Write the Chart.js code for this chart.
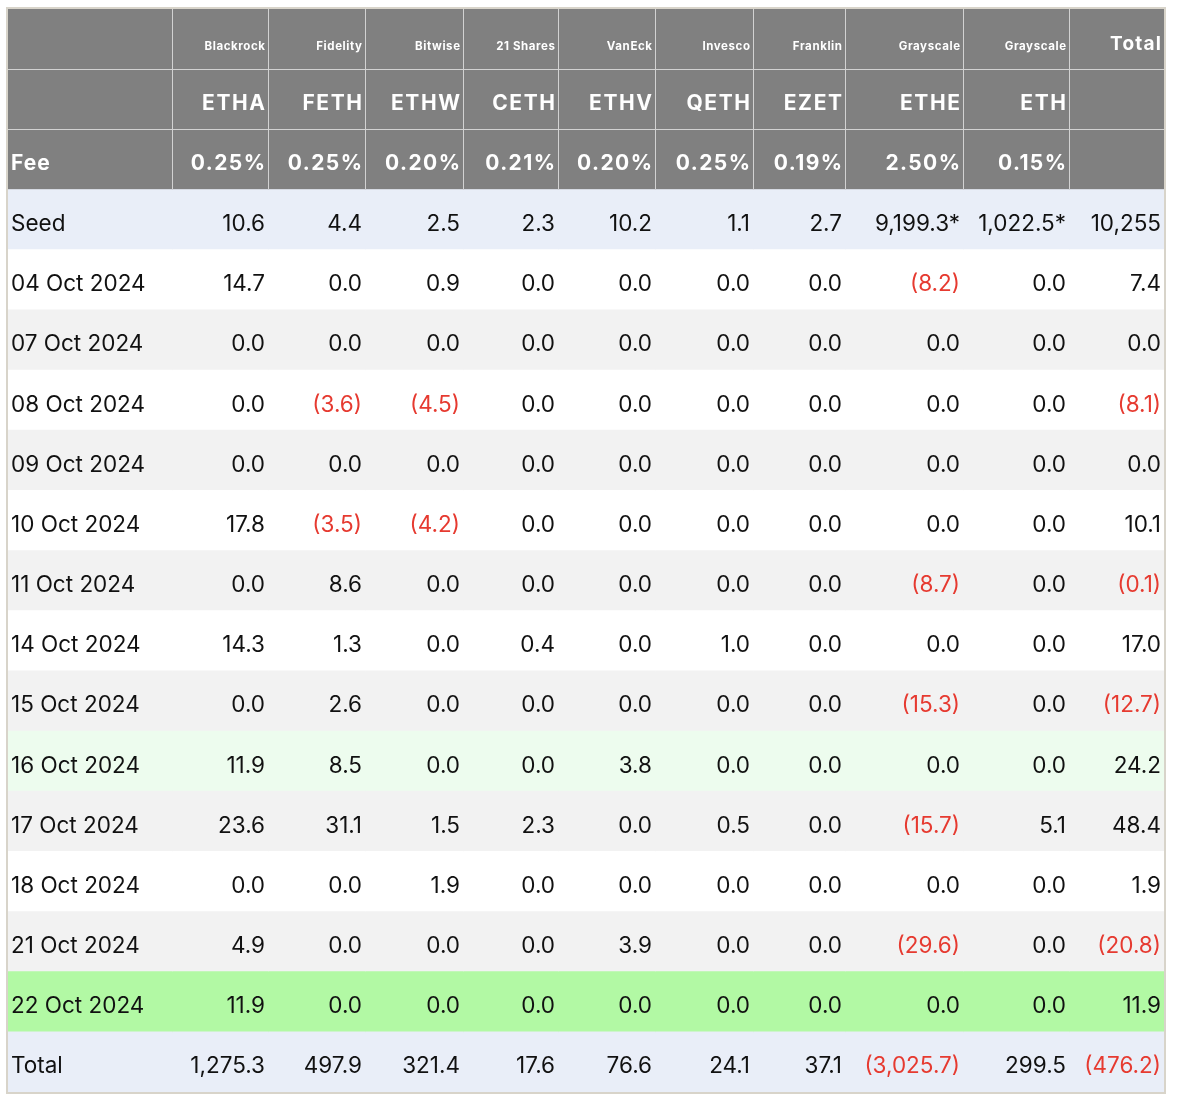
<!DOCTYPE html>
<html>
<head>
<meta charset="utf-8">
<script src="https://cdn.jsdelivr.net/npm/chart.js@4.4.1/dist/chart.umd.min.js"></script>
<style>
  html, body { margin: 0; padding: 0; background: #fff; }
  #wrap { width: 1182px; height: 1106px; }
</style>
</head>
<body>
<div id="wrap"><canvas id="flowTable"></canvas></div>
<script>
// ---- data ----
const providers = ["Blackrock", "Fidelity", "Bitwise", "21 Shares", "VanEck", "Invesco", "Franklin", "Grayscale", "Grayscale"];
const tickers = ["ETHA", "FETH", "ETHW", "CETH", "ETHV", "QETH", "EZET", "ETHE", "ETH"];
const fees = ["0.25%", "0.25%", "0.20%", "0.21%", "0.20%", "0.25%", "0.19%", "2.50%", "0.15%"];

const seed = [10.6, 4.4, 2.5, 2.3, 10.2, 1.1, 2.7, 9199.3, 1022.5];
const seedEstimated = [false, false, false, false, false, false, false, true, true];
const seedTotal = 10255;

const dates = ["04 Oct 2024", "07 Oct 2024", "08 Oct 2024", "09 Oct 2024", "10 Oct 2024", "11 Oct 2024",
  "14 Oct 2024", "15 Oct 2024", "16 Oct 2024", "17 Oct 2024", "18 Oct 2024", "21 Oct 2024", "22 Oct 2024"];

// daily flows per fund, one value per date
const etha = [14.7, 0.0, 0.0, 0.0, 17.8, 0.0, 14.3, 0.0, 11.9, 23.6, 0.0, 4.9, 11.9];
const feth = [0.0, 0.0, -3.6, 0.0, -3.5, 8.6, 1.3, 2.6, 8.5, 31.1, 0.0, 0.0, 0.0];
const ethw = [0.9, 0.0, -4.5, 0.0, -4.2, 0.0, 0.0, 0.0, 0.0, 1.5, 1.9, 0.0, 0.0];
const ceth = [0.0, 0.0, 0.0, 0.0, 0.0, 0.0, 0.4, 0.0, 0.0, 2.3, 0.0, 0.0, 0.0];
const ethv = [0.0, 0.0, 0.0, 0.0, 0.0, 0.0, 0.0, 0.0, 3.8, 0.0, 0.0, 3.9, 0.0];
const qeth = [0.0, 0.0, 0.0, 0.0, 0.0, 0.0, 1.0, 0.0, 0.0, 0.5, 0.0, 0.0, 0.0];
const ezet = [0.0, 0.0, 0.0, 0.0, 0.0, 0.0, 0.0, 0.0, 0.0, 0.0, 0.0, 0.0, 0.0];
const ethe = [-8.2, 0.0, 0.0, 0.0, 0.0, -8.7, 0.0, -15.3, 0.0, -15.7, 0.0, -29.6, 0.0];
const eth = [0.0, 0.0, 0.0, 0.0, 0.0, 0.0, 0.0, 0.0, 0.0, 5.1, 0.0, 0.0, 0.0];
const dailyTotal = [7.4, 0.0, -8.1, 0.0, 10.1, -0.1, 17.0, -12.7, 24.2, 48.4, 1.9, -20.8, 11.9];

const fundTotals = [1275.3, 497.9, 321.4, 17.6, 76.6, 24.1, 37.1, -3025.7, 299.5];
const grandTotal = -476.2;

// ---- layout / style ----
const colWidths = [164, 96, 97, 98, 95, 97, 98, 92, 118, 106, 95];
const HEADER_BG = "#808080";
const GRID = "#d2d2d2";
const RED = "#e63a30";
const INK = "#111111";
const FONT = 'Inter, "Noto Sans", sans-serif';
const highlight = { "16 Oct 2024": "#edfcee", "22 Oct 2024": "#b2f9a4" };

const colEdges = [0];
colWidths.forEach(w => colEdges.push(colEdges[colEdges.length - 1] + w));
const tableWidth = colEdges[colEdges.length - 1];

function fmt(v, digits) {
  const s = Math.abs(v).toLocaleString("en-US", { minimumFractionDigits: digits, maximumFractionDigits: digits });
  return v < 0 ? "(" + s + ")" : s;
}

// build rows of the table
const funds = [etha, feth, ethw, ceth, ethv, qeth, ezet, ethe, eth];
const rows = [];
rows.push({ kind: "provider", label: "", cells: providers.map(p => ({ text: p })).concat([{ text: "Total", big: true }]) });
rows.push({ kind: "ticker", label: "", cells: tickers.map(t => ({ text: t })).concat([{ text: "" }]) });
rows.push({ kind: "fee", label: "Fee", cells: fees.map(f => ({ text: f })).concat([{ text: "" }]) });
rows.push({ kind: "seed", label: "Seed",
  cells: seed.map((v, i) => ({ text: fmt(v, 1) + (seedEstimated[i] ? "*" : ""), neg: v < 0 }))
    .concat([{ text: fmt(seedTotal, 0), neg: seedTotal < 0 }]) });
dates.forEach((d, i) => {
  const vals = funds.map(f => f[i]).concat([dailyTotal[i]]);
  rows.push({ kind: i % 2 === 0 ? "odd" : "even", label: d, cells: vals.map(v => ({ text: fmt(v, 1), neg: v < 0 })) });
});
rows.push({ kind: "total", label: "Total",
  cells: fundTotals.concat([grandTotal]).map(v => ({ text: fmt(v, 1), neg: v < 0 })) });

function rowColor(r) {
  if (highlight[r.label]) return highlight[r.label];
  switch (r.kind) {
    case "provider": case "ticker": case "fee": return HEADER_BG;
    case "seed": case "total": return "#e9eef8";
    case "even": return "#f2f2f2";
    default: return "#ffffff";
  }
}

// one floating-bar dataset per column, one bar per row = one cell
const datasets = colWidths.map((w, j) => ({
  label: "col" + j,
  data: rows.map(() => [colEdges[j], colEdges[j + 1]]),
  backgroundColor: rows.map(rowColor),
  borderWidth: 0,
  barPercentage: 1,
  categoryPercentage: 1,
  grouped: false
}));

function drawText(ctx, text, x, y, align, font, color, spacing) {
  ctx.font = font;
  ctx.fillStyle = color;
  ctx.textAlign = align;
  ctx.textBaseline = "alphabetic";
  ctx.letterSpacing = (spacing || 0) + "px";
  // trailing letter spacing pushes right-aligned text left; compensate
  ctx.fillText(text, align === "right" ? x + (spacing || 0) : x, y);
  ctx.letterSpacing = "0px";
}

const tablePlugin = {
  id: "tableText",
  afterDatasetsDraw(chart) {
    const { ctx, scales: { x, y }, chartArea } = chart;
    const band = (chartArea.bottom - chartArea.top) / rows.length;
    ctx.save();

    // header grid lines
    ctx.strokeStyle = GRID;
    ctx.lineWidth = 1;
    const headerBottom = y.getPixelForValue(2) + band / 2;
    ctx.beginPath();
    for (let j = 1; j < colEdges.length - 1; j++) {
      const px = Math.round(x.getPixelForValue(colEdges[j])) + 0.5;
      ctx.moveTo(px, chartArea.top);
      ctx.lineTo(px, headerBottom);
    }
    for (let r = 0; r < 2; r++) {
      const py = Math.round(y.getPixelForValue(r) + band / 2) + 0.5;
      ctx.moveTo(chartArea.left, py);
      ctx.lineTo(chartArea.right, py);
    }
    ctx.stroke();

    // cell texts
    rows.forEach((r, ri) => {
      const base = y.getPixelForValue(ri) + (ri < 3 ? 10.5 : 11.5);
      const header = ri < 3;
      if (r.label) {
        drawText(ctx, r.label, x.getPixelForValue(colEdges[0]) + 3, base,
          "left", header ? "bold 21px " + FONT : "22.5px " + FONT, header ? "#fff" : INK, header ? 1 : 0);
      }
      r.cells.forEach((c, ci) => {
        if (!c.text) return;
        const right = x.getPixelForValue(colEdges[ci + 2]) - 3;
        let font, spacing = 0, color = INK;
        if (r.kind === "provider") {
          font = c.big ? "bold 19px " + FONT : "bold 11.5px " + FONT;
          spacing = c.big ? 1.2 : 0.6;
          color = "#fff";
        } else if (r.kind === "ticker") {
          font = "bold 21px " + FONT; spacing = 1.6; color = "#fff";
        } else if (r.kind === "fee") {
          font = "bold 21px " + FONT; spacing = 1.4; color = "#fff";
        } else {
          font = "22.5px " + FONT;
          color = c.neg ? RED : INK;
        }
        drawText(ctx, c.text, right, base, "right", font, color, spacing);
      });
    });

    // outer frame
    ctx.strokeStyle = "#d8d4ca";
    ctx.lineWidth = 2;
    ctx.strokeRect(chartArea.left - 1, chartArea.top - 1,
      chartArea.right - chartArea.left + 2, chartArea.bottom - chartArea.top + 2);
    ctx.restore();
  }
};

new Chart(document.getElementById("flowTable").getContext("2d"), {
  type: "bar",
  data: { labels: rows.map(r => r.label), datasets: datasets },
  options: {
    indexAxis: "y",
    responsive: true,
    maintainAspectRatio: false,
    animation: false,
    layout: { padding: { left: 8, top: 9, right: 1182 - 8 - tableWidth, bottom: 14 } },
    scales: {
      x: { type: "linear", min: 0, max: tableWidth, display: false },
      y: { type: "category", display: false, offset: true }
    },
    plugins: { legend: { display: false }, tooltip: { enabled: false } }
  },
  plugins: [tablePlugin]
});
</script>
</body>
</html>
